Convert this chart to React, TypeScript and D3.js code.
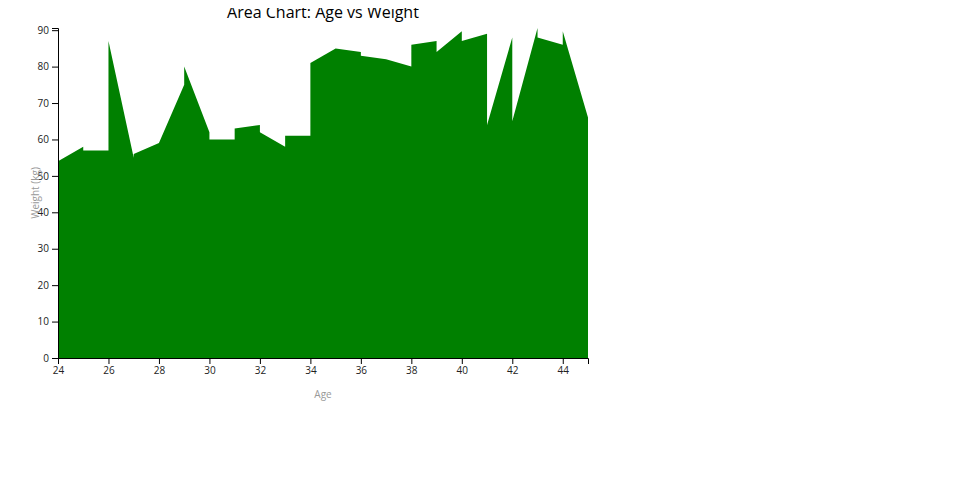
import React, { useEffect, useRef } from "react";
import * as d3 from "d3";

const ages = [24, 25, 25, 26, 26, 27, 27, 28, 29, 29, 30, 30, 31, 31, 32, 32, 33, 33, 34, 34, 35, 36, 36, 37, 38, 38, 39, 39, 40, 40, 41, 41, 42, 42, 43, 43, 44, 44, 45];
const weights = [54, 58, 57, 57, 87, 55, 56, 59, 75, 80, 62, 60, 60, 63, 64, 62, 58, 61, 61, 81, 85, 84, 83, 82, 80, 86, 87, 84, 89.7, 87, 89, 64, 88, 65, 90.6, 88, 86, 89.7, 66];

const title = "Area Chart: Age vs Weight";
const xLabel = "Age";
const yLabel = "Weight (kg)";

export default function App() {
  const ref = useRef<SVGSVGElement>(null);

  useEffect(() => {
    const width = 600;
    const height = 400;
    const margin = { top: 20, right: 20, bottom: 50, left: 50 };
    const iw = width - margin.left - margin.right;
    const ih = height - margin.top - margin.bottom;
    const svg = d3.select(ref.current);
    svg.selectAll("*").remove();

    const data = ages.map((a, i) => ({ age: a, weight: weights[i] }));

    const x = d3.scaleLinear().domain(d3.extent(ages) as [number, number]).range([0, iw]);
    const y = d3.scaleLinear().domain([0, d3.max(weights) as number]).range([ih, 0]);

    const g = svg.append("g").attr("transform", `translate(${margin.left},${margin.top})`);

    const area = d3
      .area<{ age: number; weight: number }>()
      .x((d) => x(d.age))
      .y0(ih)
      .y1((d) => y(d.weight));

    g.append("path").datum(data).attr("fill", "green").attr("d", area);

    const xa = g.append("g").attr("transform", `translate(0,${ih})`).call(d3.axisBottom(x));
    const ya = g.append("g").call(d3.axisLeft(y));
    [xa, ya].forEach((a) => a.selectAll("text").attr("font-family", "'Open Sans'").attr("font-size", 10).attr("fill", "#222"));

    svg
      .append("text")
      .attr("x", margin.left + iw / 2)
      .attr("y", margin.top / 2)
      .attr("text-anchor", "middle")
      .attr("font-family", "'Open Sans'")
      .attr("font-size", 16)
      .attr("fill", "#000")
      .text(title);

    svg
      .append("text")
      .attr("x", margin.left + iw / 2)
      .attr("y", margin.top + ih + 40)
      .attr("text-anchor", "middle")
      .attr("font-family", "'Open Sans'")
      .attr("font-size", 10)
      .attr("fill", "#999")
      .text(xLabel);

    svg
      .append("text")
      .attr("transform", `translate(${31},${margin.top + ih / 2}) rotate(-90)`)
      .attr("text-anchor", "middle")
      .attr("font-family", "'Open Sans'")
      .attr("font-size", 10)
      .attr("fill", "#999")
      .text(yLabel);
  }, []);

  return <svg ref={ref} width={600} height={400} style={{ display: "block" }} />;
}
